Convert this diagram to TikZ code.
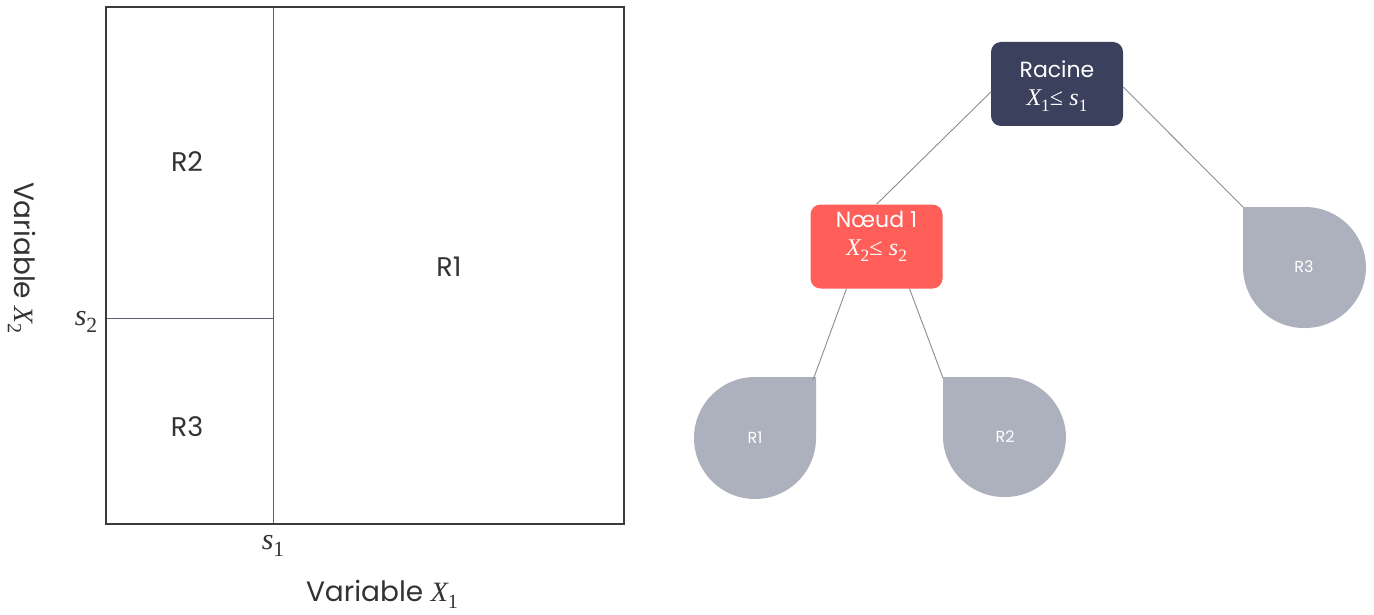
\documentclass[tikz,border=0pt]{standalone}
\usepackage{fontspec}
\setmainfont{Poppins}
\newfontfamily\serifit{Liberation Serif}[ItalicFont=* Italic]
\usetikzlibrary{calc}
\definecolor{rootc}{HTML}{3B405D}
\definecolor{nodec}{HTML}{FF5E59}
\definecolor{leafc}{HTML}{ADB0BD}
\definecolor{edgec}{HTML}{8A8C96}
\definecolor{axisc}{HTML}{3A3A3A}
\definecolor{splitc}{HTML}{5A6075}
\definecolor{txtc}{HTML}{333333}
\newcommand\myvar[2]{{\serifit\itshape #1}\raisebox{-0.25em}{\serifit\scalebox{0.72}{#2}}}
\newcommand\myle{{\serifit ≤}}
\tikzset{
  splitbox/.style={rounded corners=10pt, minimum width=132pt, minimum height=84pt, inner sep=0pt},
  boxtext/.style={inner sep=0pt, text=white, align=center, font=\fontsize{22}{28}\selectfont},
  leaflabel/.style={text=white, font=\fontsize{16}{18}\selectfont, inner sep=0pt},
  region/.style={text=txtc, font=\fontsize{27}{30}\selectfont, inner sep=0pt},
  axlabel/.style={text=txtc, font=\fontsize{28}{30}\selectfont, inner sep=0pt},
  edge/.style={draw=edgec, line width=0.9pt},
}
\begin{document}
\begin{tikzpicture}[x=1pt,y=-1pt]
\useasboundingbox (0,0) rectangle (1374,615);
% --- partition plot ---
\draw[splitc, line width=1pt] (273,7) -- (273,524);
\draw[splitc, line width=1pt] (106,318) -- (273,318);
\draw[axisc, line width=1.6pt] (106,7) rectangle (624,524);
\node[region] (lr2) at (187,162) {R2};
\node[region] (lr3) at (187,427) {R3};
\node[region] (lr1) at (449,267) {R1};
\node[text=txtc, font=\fontsize{30}{32}\selectfont, inner sep=0pt] (s2) at (86,322) {\myvar{s}{2}};
\node[text=txtc, font=\fontsize{30}{32}\selectfont, inner sep=0pt] (s1) at (273,546) {\myvar{s}{1}};
\node[axlabel] (vx1) at (382,594) {Variable \myvar{X}{1}};
\node[axlabel, rotate=-90] (vx2) at (22,258) {Variable \myvar{X}{2}};
% --- tree ---
\node[splitbox, fill=rootc] (root) at (1057,84) {};
\node[boxtext] (roott) at (1057,86) {Racine\\[0pt]{\fontsize{24}{26}\selectfont\myvar{X}{1}\myle\ \myvar{s}{1}}};
\node[splitbox, fill=nodec] (n1) at (876.5,246.5) {};
\node[boxtext] (n1t) at (876.5,236) {N\oe ud 1\\[0pt]{\fontsize{24}{26}\selectfont\myvar{X}{2}\myle\ \myvar{s}{2}}};
% leaves
\fill[leafc] (816,377) [rounded corners=61pt] -- (816,499) -- (694,499) -- (694,377) [sharp corners] -- cycle;
\coordinate (c1) at (813,380);
\node[leaflabel] (l1) at (755,438) {R1};
\fill[leafc] (943,377) [rounded corners=61pt] -- (943,497) -- (1066,497) -- (1066,377) [sharp corners] -- cycle;
\coordinate (c2) at (943,378);
\node[leaflabel] (l2) at (1005,437) {R2};
\fill[leafc] (1243,207) [rounded corners=61pt] -- (1243,328) -- (1366,328) -- (1366,207) [sharp corners] -- cycle;
\coordinate (c3) at (1243,207);
\node[leaflabel] (l3) at (1304,267) {R3};
% edges
\draw[edge] ($(root.west)+(0,8)$) -- (n1.north);
\draw[edge] ($(root.east)+(0,3)$) -- (c3);
\draw[edge] ($(n1.south)+(-30,0)$) -- (c1);
\draw[edge] ($(n1.south)+(33,0)$) -- (c2);
\end{tikzpicture}
\end{document}
